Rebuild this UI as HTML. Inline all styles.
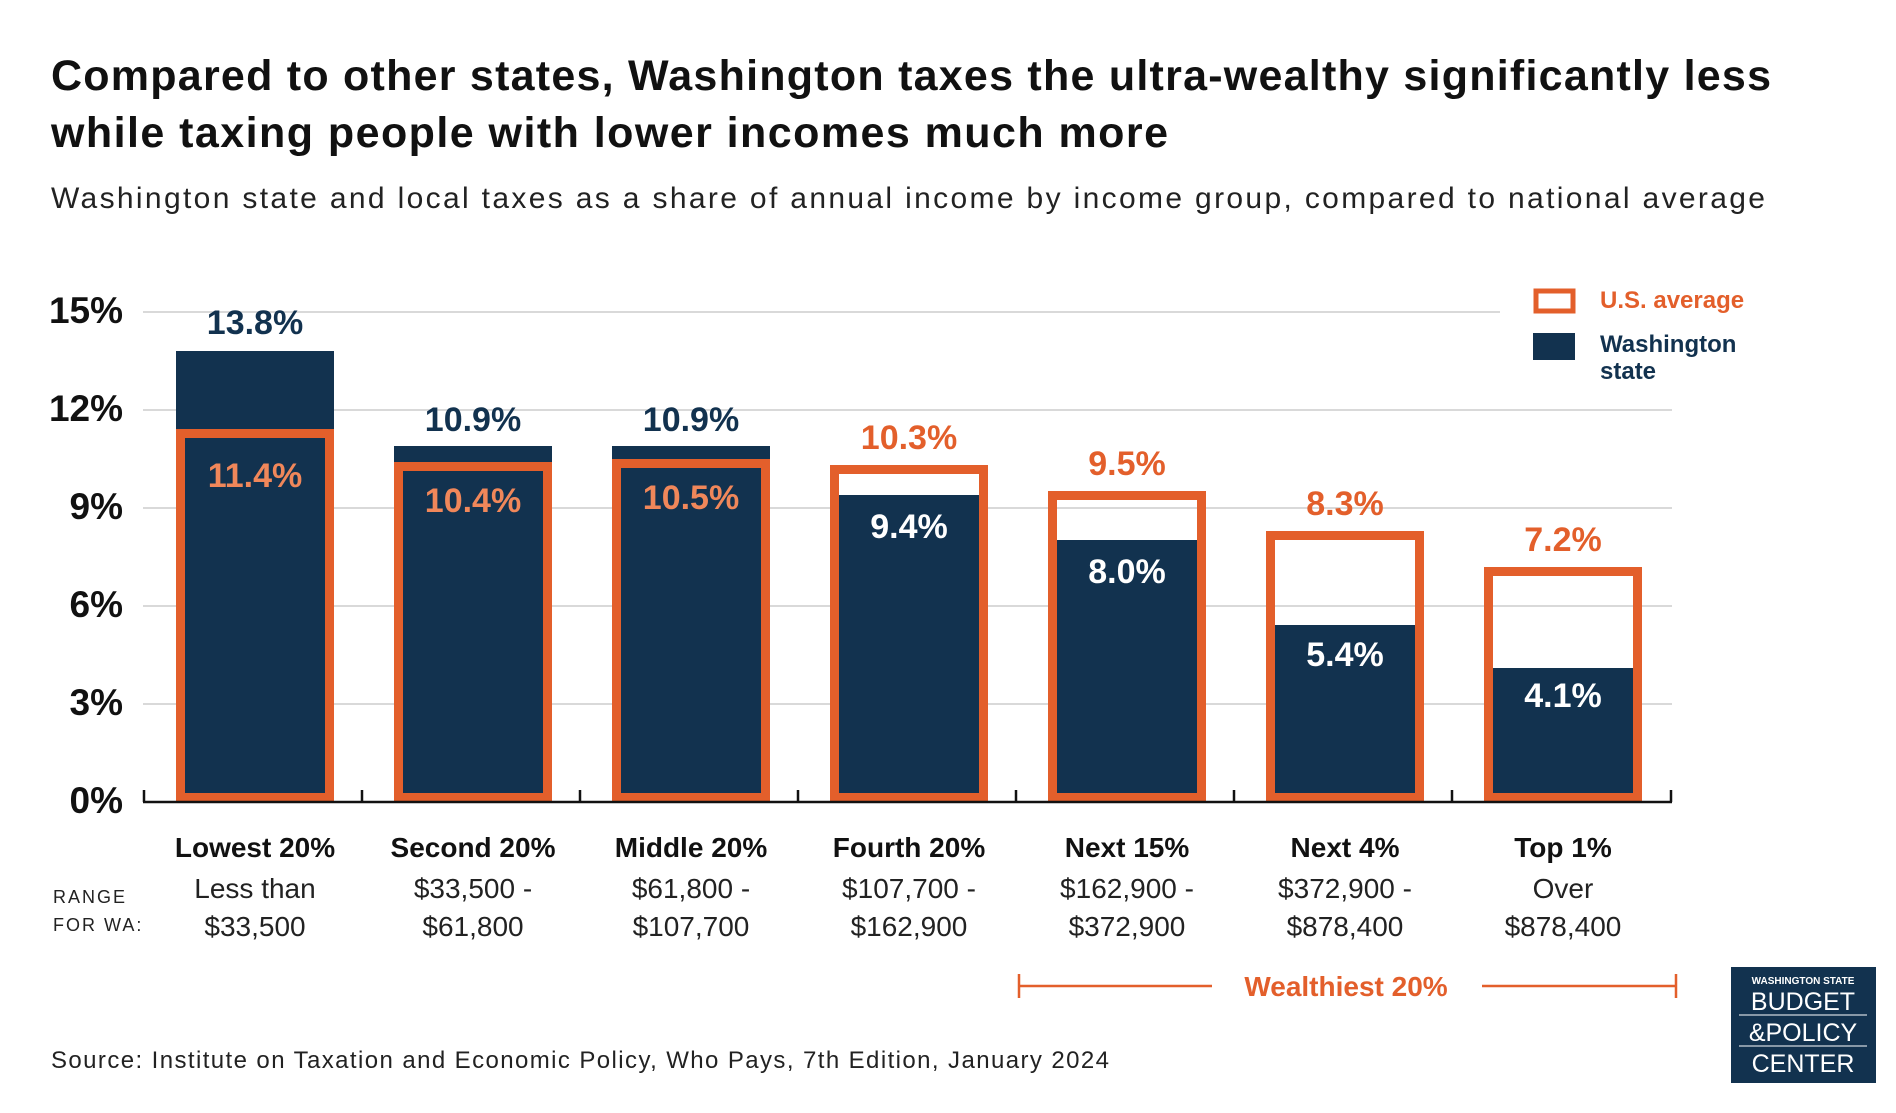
<!DOCTYPE html>
<html><head><meta charset="utf-8"><style>
html,body{margin:0;padding:0;background:#fff;}
svg{display:block;font-family:"Liberation Sans",sans-serif;}
</style></head><body>
<svg width="1896" height="1113" viewBox="0 0 1896 1113" xmlns="http://www.w3.org/2000/svg">
<rect width="1896" height="1113" fill="#fff"/>
<text x="51" y="90" font-size="43" font-weight="bold" fill="#111" textLength="1720" lengthAdjust="spacing">Compared to other states, Washington taxes the ultra-wealthy significantly less</text>
<text x="51" y="147" font-size="43" font-weight="bold" fill="#111" textLength="1117" lengthAdjust="spacing">while taxing people with lower incomes much more</text>
<text x="51" y="208" font-size="30" fill="#222" textLength="1714" lengthAdjust="spacing">Washington state and local taxes as a share of annual income by income group, compared to national average</text>
<g stroke="#d9d9d9" stroke-width="2">
<line x1="143" y1="312" x2="1500" y2="312"/>
<line x1="143" y1="410" x2="1672" y2="410"/>
<line x1="143" y1="508" x2="1672" y2="508"/>
<line x1="143" y1="606" x2="1672" y2="606"/>
<line x1="143" y1="704" x2="1672" y2="704"/>
</g>
<g font-size="37" font-weight="bold" fill="#111" text-anchor="end">
<text x="123" y="323">15%</text><text x="123" y="421">12%</text><text x="123" y="519">9%</text>
<text x="123" y="617">6%</text><text x="123" y="715">3%</text><text x="123" y="813">0%</text>
</g>
<g fill="#12324f">
<rect x="176" y="351" width="158" height="451"/>
<rect x="394" y="446" width="158" height="356"/>
<rect x="612" y="446" width="158" height="356"/>
<rect x="830" y="495" width="158" height="307"/>
<rect x="1048" y="540" width="158" height="262"/>
<rect x="1266" y="625" width="158" height="177"/>
<rect x="1484" y="668" width="158" height="134"/>
</g>
<g fill="none" stroke="#e35f2b" stroke-width="9">
<rect x="180.5" y="433.5" width="149" height="364"/>
<rect x="398.5" y="466.5" width="149" height="331"/>
<rect x="616.5" y="463.5" width="149" height="334"/>
<rect x="834.5" y="469.5" width="149" height="328"/>
<rect x="1052.5" y="495.5" width="149" height="302"/>
<rect x="1270.5" y="535.5" width="149" height="262"/>
<rect x="1488.5" y="571.5" width="149" height="226"/>
</g>
<g stroke="#111" stroke-width="2.5" fill="none">
<line x1="143" y1="802" x2="1672" y2="802"/>
<line x1="144" y1="790" x2="144" y2="802"/>
<line x1="362" y1="790" x2="362" y2="802"/><line x1="580" y1="790" x2="580" y2="802"/>
<line x1="798" y1="790" x2="798" y2="802"/><line x1="1016" y1="790" x2="1016" y2="802"/>
<line x1="1234" y1="790" x2="1234" y2="802"/><line x1="1452" y1="790" x2="1452" y2="802"/>
<line x1="1671" y1="790" x2="1671" y2="802"/>
</g>
<g font-size="34" font-weight="bold" text-anchor="middle">
<text x="255" y="334" fill="#12324f">13.8%</text>
<text x="255" y="487" fill="#f0875a">11.4%</text>
<text x="473" y="431" fill="#12324f">10.9%</text>
<text x="473" y="512" fill="#f0875a">10.4%</text>
<text x="691" y="431" fill="#12324f">10.9%</text>
<text x="691" y="509" fill="#f0875a">10.5%</text>
<text x="909" y="449" fill="#e35f2b">10.3%</text>
<text x="909" y="538" fill="#fff">9.4%</text>
<text x="1127" y="475" fill="#e35f2b">9.5%</text>
<text x="1127" y="583" fill="#fff">8.0%</text>
<text x="1345" y="515" fill="#e35f2b">8.3%</text>
<text x="1345" y="666" fill="#fff">5.4%</text>
<text x="1563" y="551" fill="#e35f2b">7.2%</text>
<text x="1563" y="707" fill="#fff">4.1%</text>
</g>
<rect x="1536" y="291" width="37" height="20" fill="none" stroke="#e35f2b" stroke-width="5"/>
<rect x="1533" y="333" width="42" height="27" fill="#12324f"/>
<g font-size="24" font-weight="bold">
<text x="1600" y="308" fill="#e35f2b">U.S. average</text>
<text x="1600" y="352" fill="#12324f">Washington</text>
<text x="1600" y="379" fill="#12324f">state</text>
</g>
<g font-size="28" font-weight="bold" fill="#111" text-anchor="middle">
<text x="255" y="857">Lowest 20%</text><text x="473" y="857">Second 20%</text>
<text x="691" y="857">Middle 20%</text><text x="909" y="857">Fourth 20%</text>
<text x="1127" y="857">Next 15%</text><text x="1345" y="857">Next 4%</text>
<text x="1563" y="857">Top 1%</text>
</g>
<g font-size="28" fill="#222" text-anchor="middle">
<text x="255" y="898">Less than</text><text x="255" y="936">$33,500</text>
<text x="473" y="898">$33,500 -</text><text x="473" y="936">$61,800</text>
<text x="691" y="898">$61,800 -</text><text x="691" y="936">$107,700</text>
<text x="909" y="898">$107,700 -</text><text x="909" y="936">$162,900</text>
<text x="1127" y="898">$162,900 -</text><text x="1127" y="936">$372,900</text>
<text x="1345" y="898">$372,900 -</text><text x="1345" y="936">$878,400</text>
<text x="1563" y="898">Over</text><text x="1563" y="936">$878,400</text>
</g>
<g font-size="18" fill="#222" letter-spacing="2">
<text x="53" y="903">RANGE</text><text x="53" y="931">FOR WA:</text>
</g>
<g stroke="#e35f2b" stroke-width="2.5">
<line x1="1019" y1="986" x2="1212" y2="986"/><line x1="1019" y1="974" x2="1019" y2="998"/>
<line x1="1482" y1="986" x2="1676" y2="986"/><line x1="1676" y1="974" x2="1676" y2="998"/>
</g>
<text x="1346" y="996" font-size="28" font-weight="bold" fill="#e35f2b" text-anchor="middle">Wealthiest 20%</text>
<text x="51" y="1068" font-size="24" fill="#222" textLength="1058" lengthAdjust="spacing">Source: Institute on Taxation and Economic Policy, Who Pays, 7th Edition, January 2024</text>
<rect x="1731" y="967" width="145" height="116" fill="#12324f"/>
<g fill="#fff" text-anchor="middle">
<text x="1803" y="984" font-size="10" font-weight="bold">WASHINGTON STATE</text>
<text x="1803" y="1010" font-size="25">BUDGET</text>
<line x1="1739" y1="1015" x2="1867" y2="1015" stroke="#fff" stroke-width="1"/>
<text x="1803" y="1041" font-size="25">&amp;POLICY</text>
<line x1="1739" y1="1046" x2="1867" y2="1046" stroke="#fff" stroke-width="1"/>
<text x="1803" y="1072" font-size="25">CENTER</text>
</g>
</svg>
</body></html>
